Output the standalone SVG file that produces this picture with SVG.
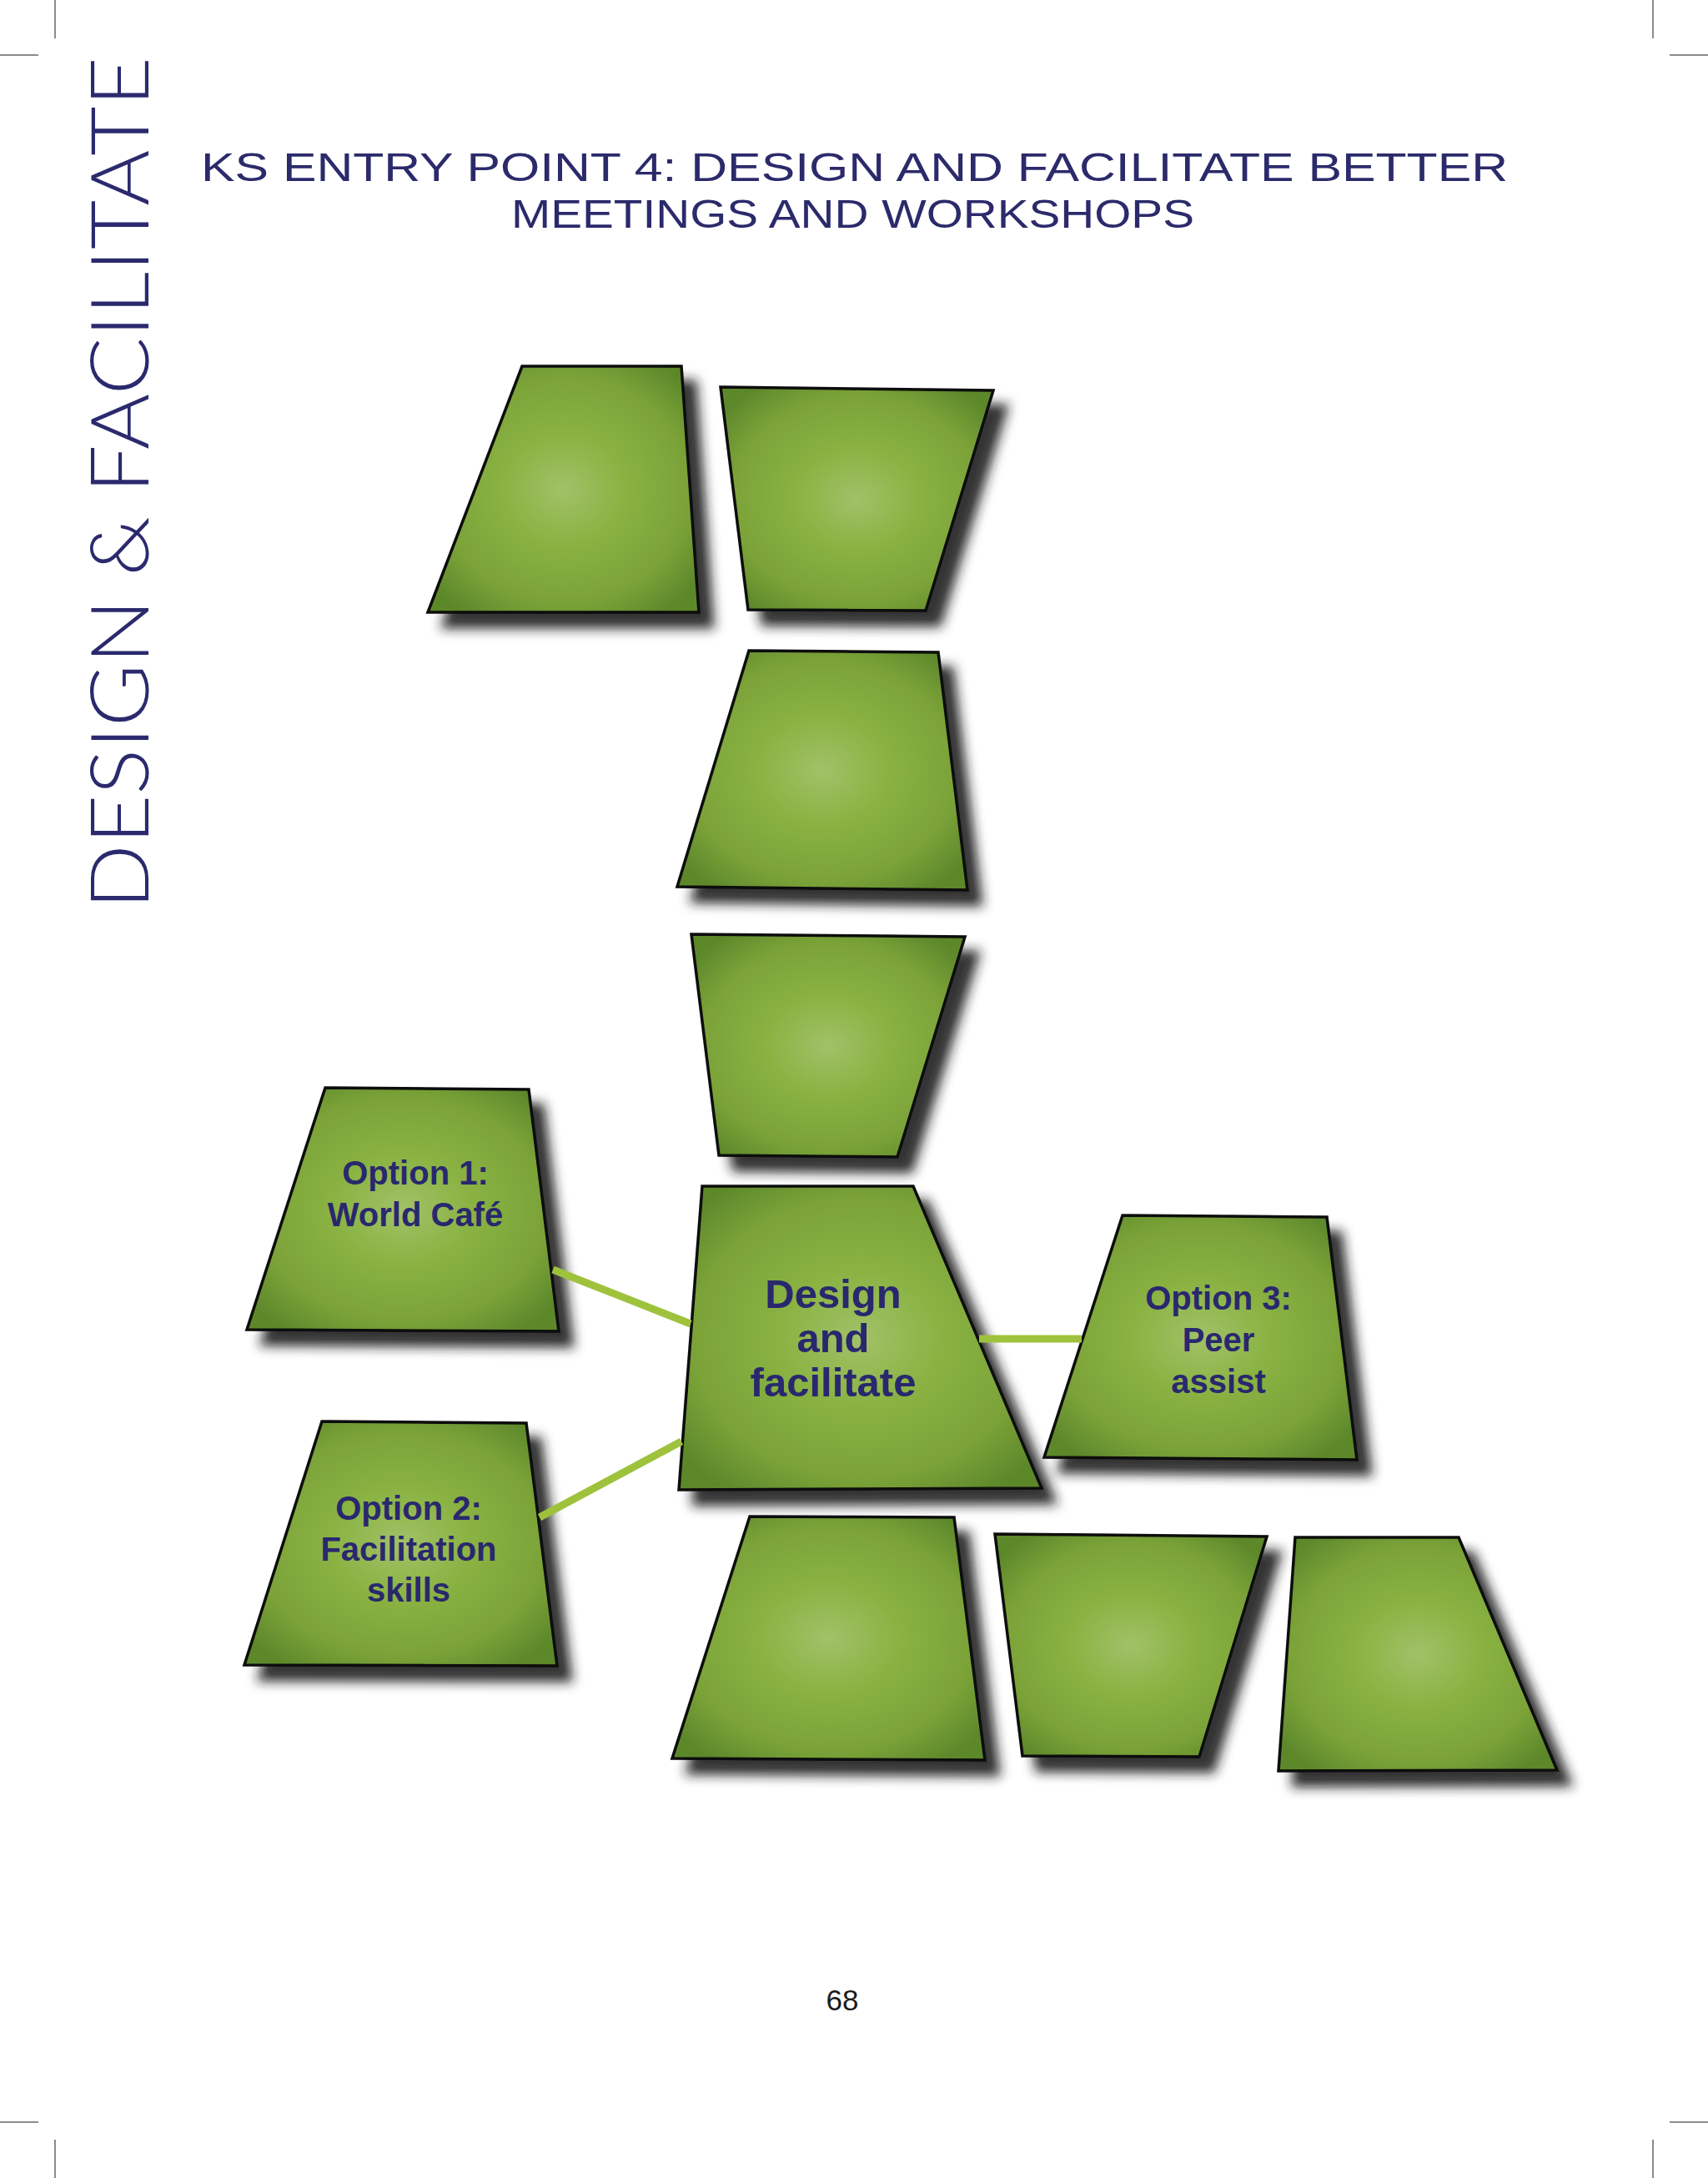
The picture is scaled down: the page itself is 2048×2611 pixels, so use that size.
<svg xmlns="http://www.w3.org/2000/svg" width="2048" height="2611" viewBox="0 0 2048 2611">
<defs>
<radialGradient id="g" cx="0.5" cy="0.5" r="0.62">
<stop offset="0" stop-color="#a2c168"/>
<stop offset="0.35" stop-color="#8ab343"/>
<stop offset="0.75" stop-color="#7aa238"/>
<stop offset="1" stop-color="#5d882b"/>
</radialGradient>
<filter id="sh" x="-15%" y="-15%" width="145%" height="145%">
<feGaussianBlur in="SourceAlpha" stdDeviation="7"/>
<feOffset dx="17" dy="18" result="b"/>
<feFlood flood-color="#1c1c1c" flood-opacity="0.9"/>
<feComposite in2="b" operator="in" result="s"/>
<feMerge><feMergeNode in="s"/><feMergeNode in="SourceGraphic"/></feMerge>
</filter>
</defs>
<style>
.card{fill:url(#g);stroke:#0a0a0a;stroke-width:3.5;stroke-linejoin:miter;filter:url(#sh)}
.lbl{font-family:"Liberation Sans",Arial,sans-serif;font-weight:bold;fill:#29286e;text-anchor:middle}
.opt{font-size:40px}
.ctr{font-size:49px}
.conn{stroke:#9fc23c;stroke-width:9;fill:none}
.crop{stroke:#666;stroke-width:1.5}
.title{font-family:"Liberation Sans Narrow","Liberation Sans",sans-serif;font-size:48px;fill:#2b2a6b}
</style>
<rect width="2048" height="2611" fill="#ffffff"/>
<g id="crop-marks">
<line class="crop" x1="66" y1="0" x2="66" y2="46"/>
<line class="crop" x1="1982" y1="0" x2="1982" y2="46"/>
<line class="crop" x1="0" y1="66" x2="46" y2="66"/>
<line class="crop" x1="2002" y1="66" x2="2048" y2="66"/>
<line class="crop" x1="66" y1="2565" x2="66" y2="2611"/>
<line class="crop" x1="1982" y1="2565" x2="1982" y2="2611"/>
<line class="crop" x1="0" y1="2544" x2="46" y2="2544"/>
<line class="crop" x1="2002" y1="2544" x2="2048" y2="2544"/>
</g>
<g id="side-title">
<text transform="translate(178,1090) rotate(-90)" font-family="Lato,'Liberation Sans',Arial,sans-serif" font-weight="300" font-size="96" fill="#2b2a6e" textLength="1022" lengthAdjust="spacingAndGlyphs">DESIGN &amp; FACILITATE</text>
</g>
<g id="title">
<text class="title" x="241" y="217" textLength="1567" lengthAdjust="spacingAndGlyphs">KS ENTRY POINT 4: DESIGN AND FACILITATE BETTER</text>
<text class="title" x="613" y="273" textLength="819" lengthAdjust="spacingAndGlyphs">MEETINGS AND WORKSHOPS</text>
</g>
<g id="card-a"><polygon class="card" points="626,439 817,439 838,734 513,734"/></g>
<g id="card-b"><polygon class="card" points="864,464 1191,468 1110,732 897,731"/></g>
<g id="card-c"><polygon class="card" points="898,780 1125,782 1160,1067 812,1063"/></g>
<g id="card-d"><polygon class="card" points="829,1120 1157,1123 1076,1387 862,1385"/></g>
<g id="option1">
<polygon class="card" points="390,1304 634,1306 670,1596 296,1594"/>
<text class="lbl opt" x="498" y="1420">Option 1:</text>
<text class="lbl opt" x="498" y="1470">World Café</text>
</g>
<g id="option2">
<polygon class="card" points="386,1704 631,1706 668,1997 293,1996"/>
<text class="lbl opt" x="490" y="1822">Option 2:</text>
<text class="lbl opt" x="490" y="1871">Facilitation</text>
<text class="lbl opt" x="490" y="1920">skills</text>
</g>
<g id="center">
<polygon class="card" points="842,1422 1095,1422 1249,1784 814,1786"/>
<text class="lbl ctr" x="999" y="1568">Design</text>
<text class="lbl ctr" x="999" y="1621">and</text>
<text class="lbl ctr" x="999" y="1674">facilitate</text>
</g>
<g id="option3">
<polygon class="card" points="1346,1457 1591,1459 1627,1750 1252,1747"/>
<text class="lbl opt" x="1461" y="1570">Option 3:</text>
<text class="lbl opt" x="1461" y="1620">Peer</text>
<text class="lbl opt" x="1461" y="1670">assist</text>
</g>
<g id="card-e"><polygon class="card" points="899,1818 1144,1819 1181,2110 806,2108"/></g>
<g id="card-f"><polygon class="card" points="1193,1839 1519,1842 1438,2106 1226,2105"/></g>
<g id="card-g"><polygon class="card" points="1553,1843 1749,1843 1867,2122 1533,2123"/></g>
<g id="connectors">
<line class="conn" x1="663" y1="1522" x2="828" y2="1587"/>
<line class="conn" x1="647" y1="1819" x2="817" y2="1728"/>
<line class="conn" x1="1174" y1="1605" x2="1297" y2="1605"/>
</g>
<g id="page-number">
<text x="1010" y="2410" font-family="'Liberation Sans',Arial,sans-serif" font-size="35" fill="#1a1a1a" text-anchor="middle">68</text>
</g>
</svg>
